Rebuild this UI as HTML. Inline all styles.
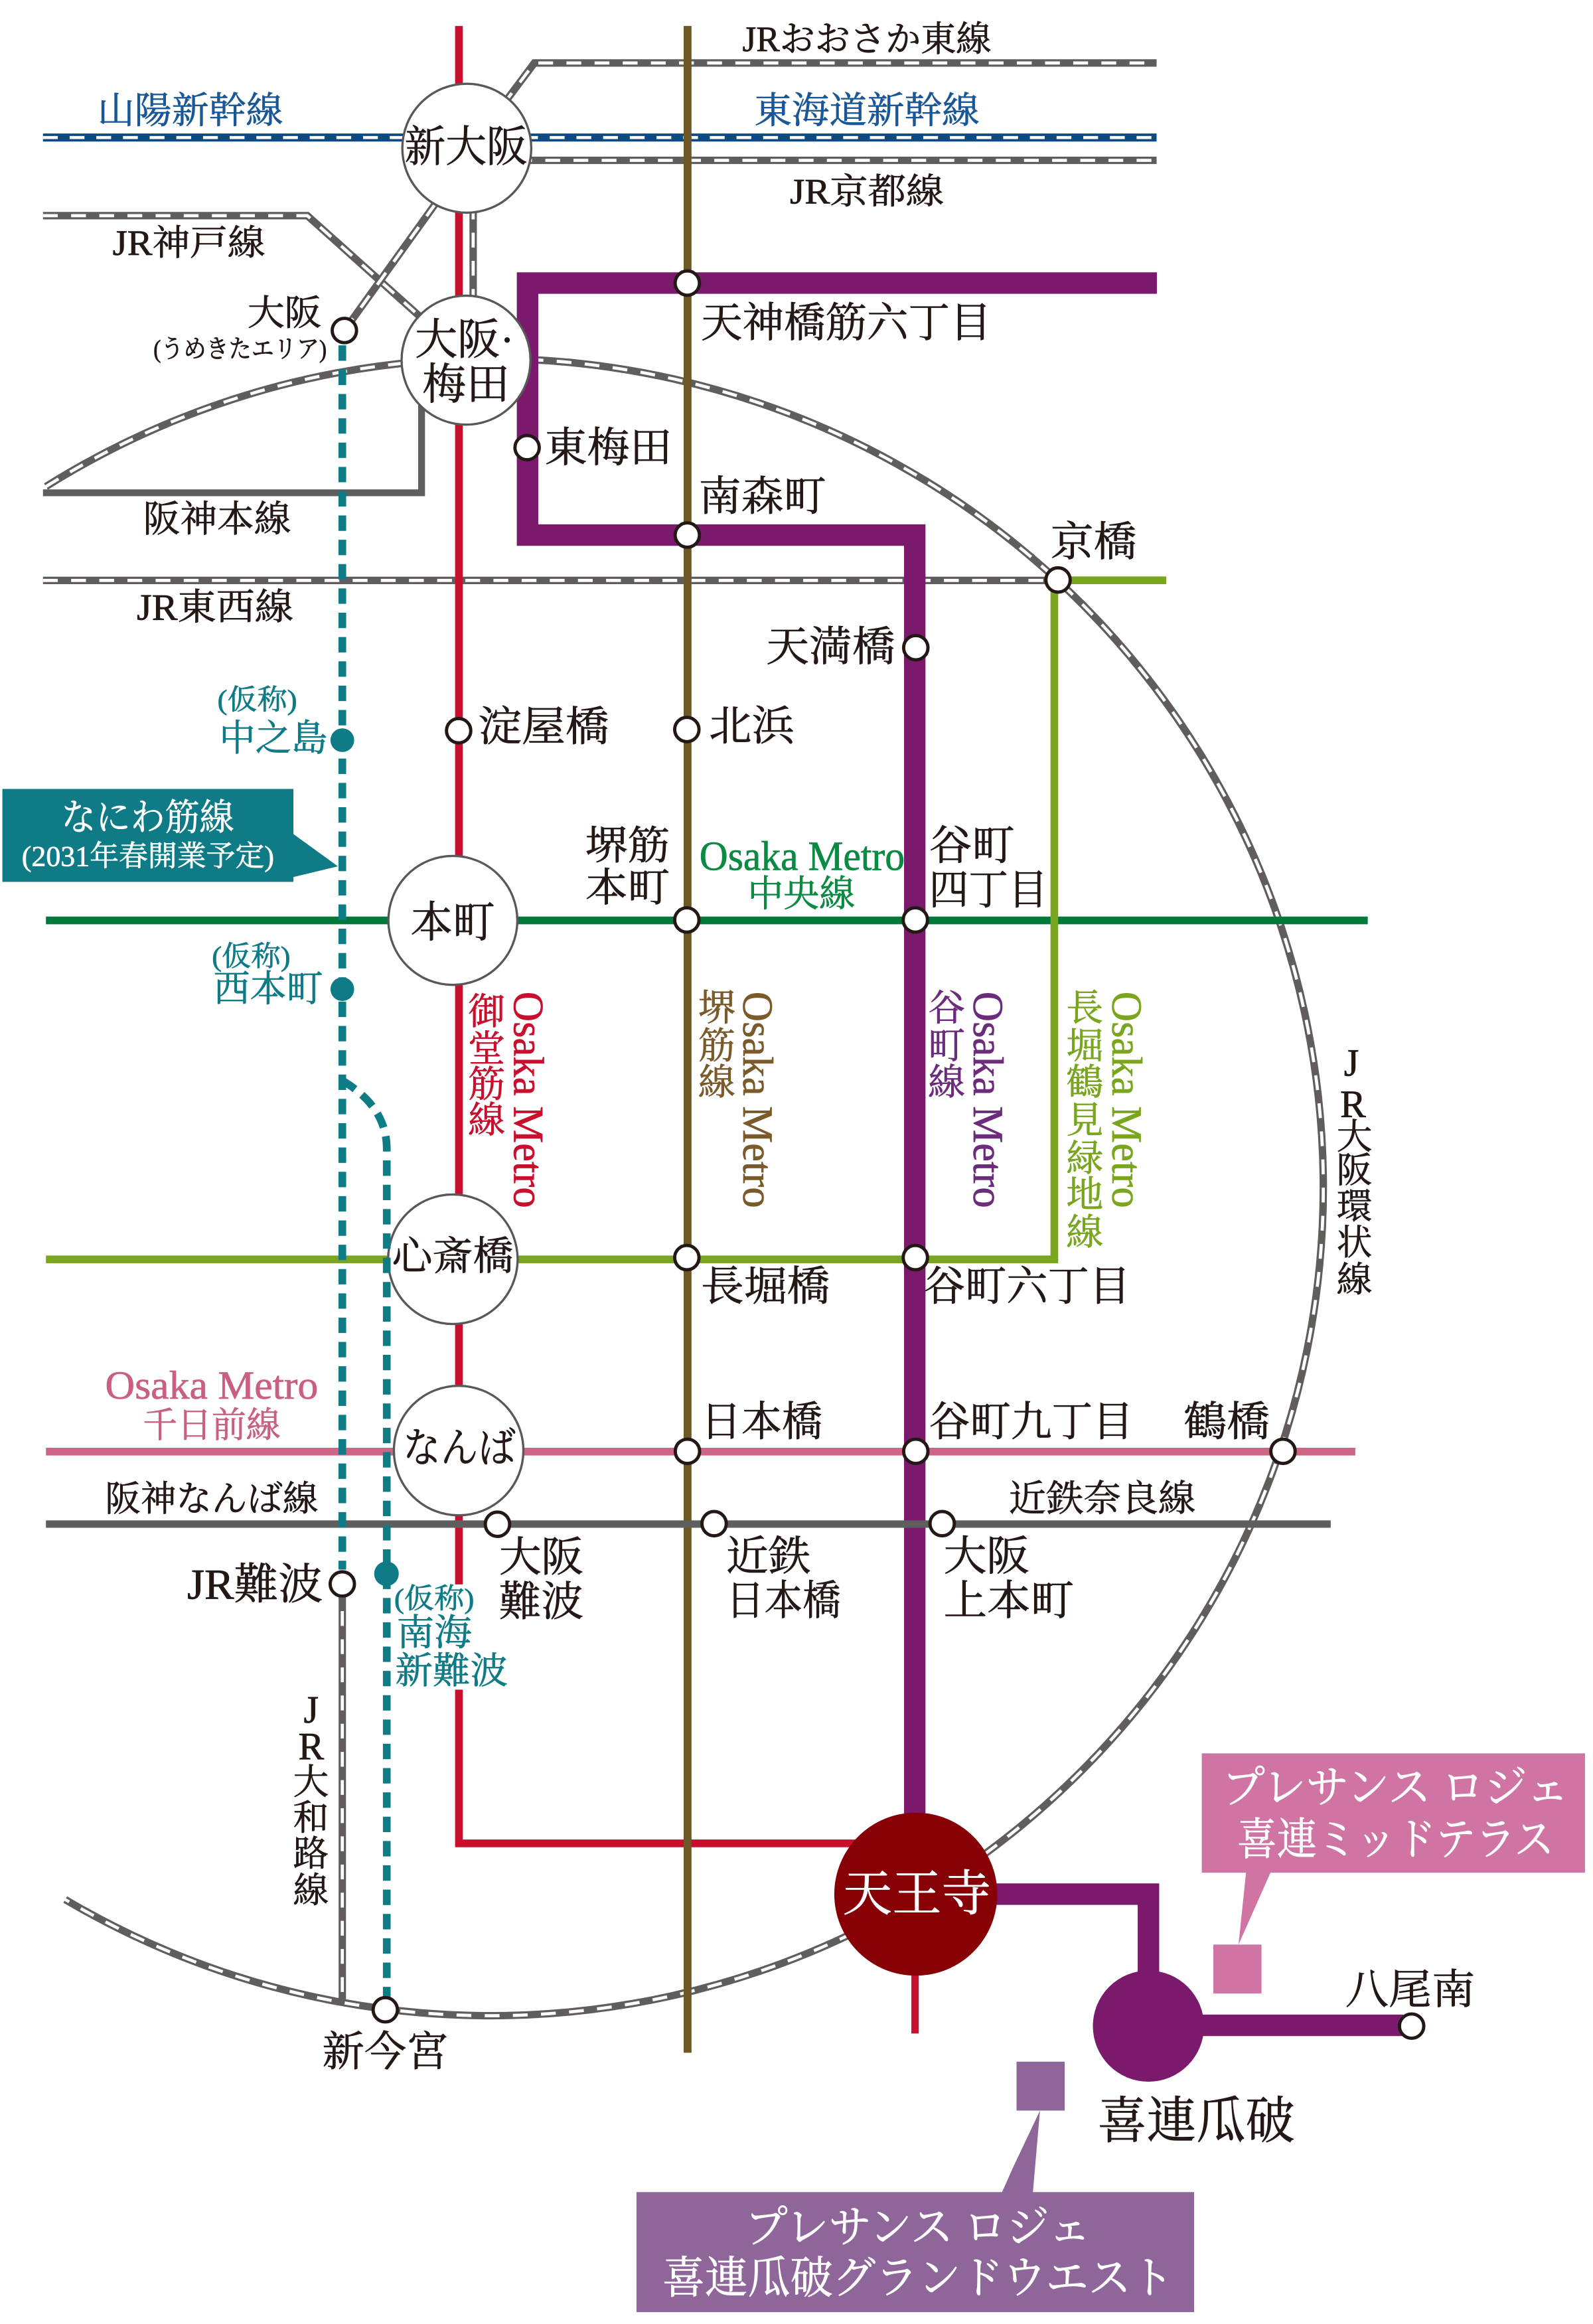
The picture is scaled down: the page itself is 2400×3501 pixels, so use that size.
<!DOCTYPE html>
<html><head><meta charset="utf-8">
<style>
html,body{margin:0;padding:0;background:#fff;}
svg{display:block;}
text{font-family:"Liberation Serif","Noto Serif CJK SC","Noto Serif CJK JP",serif;stroke-width:0.32px;paint-order:stroke;}
</style></head><body>
<svg width="2400" height="3501" viewBox="0 0 1075 1568" preserveAspectRatio="none" xmlns="http://www.w3.org/2000/svg">
<rect width="1075" height="1568" fill="#fff"/>

<g fill="none" stroke-linejoin="miter" stroke-linecap="butt">
  <!-- JR rails (gray) -->
  <g stroke="#615d5c" stroke-width="5">
    <path d="M328,86 L360.6,42.5 L780.5,42.5"/>
    <path d="M330,108.2 L780.5,108.2"/>
    <path d="M319.3,138 L319.3,205"/>
    <path d="M29,145.5 L207.4,145.5 L295,224"/>
    <path d="M232.4,223 L310,115"/>
    <path d="M29,391.6 L714,391.6"/>
    <path d="M31,328.3 A562,559 0 1,1 44,1281.6"/>
    <path d="M231,1068 L231,1352"/>
  </g>
  <g stroke="#fff" stroke-width="2.1" stroke-dasharray="10 9">
    <path d="M328,86 L360.6,42.5 L780.5,42.5"/>
    <path d="M330,108.2 L780.5,108.2"/>
    <path d="M319.3,138 L319.3,205"/>
    <path d="M29,145.5 L207.4,145.5 L295,224"/>
    <path d="M232.4,223 L310,115"/>
    <path d="M29,391.6 L714,391.6"/>
    <path d="M31,328.3 A562,559 0 1,1 44,1281.6"/>
    <path d="M231,1068 L231,1352"/>
  </g>
  <!-- Shinkansen -->
  <path d="M29,92.8 L780.5,92.8" stroke="#0d4a82" stroke-width="5.4"/>
  <path d="M29,92.8 L780.5,92.8" stroke="#fff" stroke-width="2.1" stroke-dasharray="10 8"/>

  <!-- Subway lines -->
  <path d="M309.7,17.5 L309.7,1243.7 L600,1243.7" stroke="#c8102e" stroke-width="5.2"/>
  <path d="M617.5,1290 L617.5,1372" stroke="#c8102e" stroke-width="5"/>
  <path d="M31,621 L923,621" stroke="#00793a" stroke-width="5.2"/>
  <path d="M31,849.7 L711.5,849.7 L711.5,391.5 L787,391.5" stroke="#7aa61f" stroke-width="5.2"/>
  <path d="M31,979.4 L914.6,979.4" stroke="#cd6584" stroke-width="5.2"/>
  <path d="M464,17.5 L464,1385" stroke="#6e5627" stroke-width="5.3"/>
  <path d="M780.7,191 L356,191 L356,361 L617.3,361 L617.3,1278" stroke="#7b1a6c" stroke-width="14.5"/>
  <path d="M618,1278 L775,1278 L775,1367" stroke="#7b1a6c" stroke-width="14.5"/>
  <path d="M775,1366.5 L947,1366.5" stroke="#7b1a6c" stroke-width="14.5"/>
  <path d="M284.5,270 L284.5,332.5 L29,332.5" stroke="#5e5e5e" stroke-width="4.6"/>
  <path d="M31,1028.3 L898,1028.3" stroke="#5e5e5e" stroke-width="5"/>
</g>

<!-- white halo behind Nankai label -->
<rect x="304" y="1069" width="12" height="71" fill="#fff"/>

<!-- Big stations -->
<g fill="#fff" stroke="#5a5758" stroke-width="1.5">
  <circle cx="315" cy="100" r="43.5"/>
  <circle cx="314.5" cy="243" r="43.5"/>
  <circle cx="305.6" cy="621" r="43.5"/>
  <circle cx="305.6" cy="849.6" r="43.7"/>
  <circle cx="309.5" cy="978.7" r="43.7"/>
</g>
<circle cx="618" cy="1278" r="55" fill="#860005"/>
<circle cx="775" cy="1367" r="37.5" fill="#7b1a6c"/>

<!-- Naniwasuji line (teal dashed) -->
<g fill="none" stroke="#0e7b86" stroke-width="5.2" stroke-dasharray="10.4 6">
  <path d="M231,233 L231,1059"/>
  <path d="M231,729 C246,738 261,752 261,775 L261,1350"/>
</g>

<!-- Small stations -->
<g fill="#fff" stroke="#231815" stroke-width="2.2">
  <circle cx="232.4" cy="223" r="8.2"/>
  <circle cx="463.8" cy="191" r="8.2"/>
  <circle cx="355.7" cy="302" r="8.2"/>
  <circle cx="463.8" cy="361" r="8.2"/>
  <circle cx="714" cy="391.3" r="8.2"/>
  <circle cx="618" cy="437" r="8.2"/>
  <circle cx="309.5" cy="493" r="8.2"/>
  <circle cx="463.5" cy="492.2" r="8.2"/>
  <circle cx="463.5" cy="620.7" r="8.2"/>
  <circle cx="617.7" cy="620.7" r="8.2"/>
  <circle cx="463.5" cy="848.5" r="8.2"/>
  <circle cx="617.7" cy="848.5" r="8.2"/>
  <circle cx="463.9" cy="979.2" r="8.2"/>
  <circle cx="618" cy="979.2" r="8.2"/>
  <circle cx="865.8" cy="979.2" r="8.2"/>
  <circle cx="335.7" cy="1028.4" r="8.2"/>
  <circle cx="481.9" cy="1028" r="8.2"/>
  <circle cx="635.8" cy="1028" r="8.2"/>
  <circle cx="231" cy="1068.7" r="8.2"/>
  <circle cx="260" cy="1356" r="8.2"/>
  <circle cx="952.6" cy="1367" r="8.2"/>
</g>
<g fill="#0e7b86">
  <circle cx="231" cy="499.4" r="8"/>
  <circle cx="231" cy="667.4" r="8"/>
  <circle cx="260.8" cy="1061.8" r="8.3"/>
</g>

<!-- Boxes -->
<rect x="1.6" y="532.3" width="196.4" height="62.7" fill="#0e7b86"/>
<polygon points="197,562 228,584.5 197,592" fill="#0e7b86"/>
<rect x="811" y="1183" width="258.6" height="80.5" fill="#cf74a3"/>
<polygon points="841,1262 858,1262 835.8,1312" fill="#cf74a3"/>
<rect x="818.8" y="1312" width="32.5" height="33" fill="#cf74a3"/>
<rect x="429.5" y="1479" width="376.3" height="81" fill="#8f6699"/>
<polygon points="701.8,1424 697,1479.5 676,1479.5 683.8,1462" fill="#8f6699"/>
<rect x="686" y="1391" width="32.5" height="33" fill="#8f6699"/>

<!-- Horizontal labels -->
<g dominant-baseline="central" fill="#231815" stroke="#231815">
  <text x="501" y="26.5" font-size="24" textLength="168" lengthAdjust="spacingAndGlyphs">JRおおさか東線</text>
  <text x="65.8" y="75" font-size="25" textLength="125.2" lengthAdjust="spacingAndGlyphs" fill="#1a5796" stroke="#1a5796">山陽新幹線</text>
  <text x="509" y="75" font-size="25" textLength="152" lengthAdjust="spacingAndGlyphs" fill="#1a5796" stroke="#1a5796">東海道新幹線</text>
  <text x="273" y="99.5" font-size="29" textLength="83" lengthAdjust="spacingAndGlyphs">新大阪</text>
  <text x="533" y="129.3" font-size="24" textLength="104" lengthAdjust="spacingAndGlyphs">JR京都線</text>
  <text x="76" y="164" font-size="24" textLength="103" lengthAdjust="spacingAndGlyphs">JR神戸線</text>
  <text x="167" y="211.2" font-size="24" textLength="50" lengthAdjust="spacingAndGlyphs">大阪</text>
  <text x="103.5" y="235.8" font-size="17" textLength="117" lengthAdjust="spacingAndGlyphs">(うめきたエリア)</text>
  <text x="280" y="229.5" font-size="29" textLength="67" lengthAdjust="spacingAndGlyphs">大阪·</text>
  <text x="285" y="259.7" font-size="29" textLength="59" lengthAdjust="spacingAndGlyphs">梅田</text>
  <text x="473" y="218" font-size="28" textLength="196" lengthAdjust="spacingAndGlyphs">天神橋筋六丁目</text>
  <text x="367.5" y="302" font-size="28" textLength="86" lengthAdjust="spacingAndGlyphs">東梅田</text>
  <text x="96.7" y="350.7" font-size="25" textLength="99.7" lengthAdjust="spacingAndGlyphs">阪神本線</text>
  <text x="471.5" y="335" font-size="28" textLength="86" lengthAdjust="spacingAndGlyphs">南森町</text>
  <text x="709" y="365.6" font-size="28" textLength="58" lengthAdjust="spacingAndGlyphs">京橋</text>
  <text x="92.3" y="410" font-size="25" textLength="105.7" lengthAdjust="spacingAndGlyphs">JR東西線</text>
  <text x="517" y="436.5" font-size="28" textLength="87" lengthAdjust="spacingAndGlyphs">天満橋</text>
  <text x="322.6" y="490.5" font-size="28" textLength="88.4" lengthAdjust="spacingAndGlyphs">淀屋橋</text>
  <text x="478.5" y="490" font-size="28" textLength="57.5" lengthAdjust="spacingAndGlyphs">北浜</text>
  <text x="146.7" y="472.5" font-size="19" textLength="53.8" lengthAdjust="spacingAndGlyphs" fill="#0e7b86" stroke="#0e7b86">(仮称)</text>
  <text x="148" y="498.4" font-size="25" textLength="73" lengthAdjust="spacingAndGlyphs" fill="#0e7b86" stroke="#0e7b86">中之島</text>
  <text x="41.4" y="552" font-size="25" textLength="116.6" lengthAdjust="spacingAndGlyphs" fill="#fff" stroke="#fff">なにわ筋線</text>
  <text x="14.7" y="578" font-size="19.5" textLength="170.3" lengthAdjust="spacingAndGlyphs" fill="#fff" stroke="#fff">(2031年春開業予定)</text>
  <text x="395" y="571" font-size="27" textLength="57" lengthAdjust="spacingAndGlyphs">堺筋</text>
  <text x="395" y="599.5" font-size="27" textLength="57" lengthAdjust="spacingAndGlyphs">本町</text>
  <text x="472" y="577.5" font-size="28" textLength="138.5" lengthAdjust="spacingAndGlyphs" fill="#0a8a43" stroke="#0a8a43">Osaka Metro</text>
  <text x="504.5" y="603.5" font-size="25" textLength="72.5" lengthAdjust="spacingAndGlyphs" fill="#0a8a43" stroke="#0a8a43">中央線</text>
  <text x="627" y="570.7" font-size="28" textLength="57.7" lengthAdjust="spacingAndGlyphs">谷町</text>
  <text x="627" y="600.5" font-size="28" textLength="80" lengthAdjust="spacingAndGlyphs">四丁目</text>
  <text x="277" y="622.7" font-size="29" textLength="57" lengthAdjust="spacingAndGlyphs">本町</text>
  <text x="143" y="645.5" font-size="19" textLength="53" lengthAdjust="spacingAndGlyphs" fill="#0e7b86" stroke="#0e7b86">(仮称)</text>
  <text x="144" y="667.5" font-size="25" textLength="74" lengthAdjust="spacingAndGlyphs" fill="#0e7b86" stroke="#0e7b86">西本町</text>
  <text x="264.5" y="848" font-size="27" textLength="82" lengthAdjust="spacingAndGlyphs">心斎橋</text>
  <text x="473" y="868" font-size="28" textLength="87" lengthAdjust="spacingAndGlyphs">長堀橋</text>
  <text x="623.4" y="868" font-size="28" textLength="139.4" lengthAdjust="spacingAndGlyphs">谷町六丁目</text>
  <text x="71" y="935" font-size="27" textLength="143.7" lengthAdjust="spacingAndGlyphs" fill="#c9607f" stroke="#c9607f">Osaka Metro</text>
  <text x="96.4" y="961.6" font-size="24" textLength="93" lengthAdjust="spacingAndGlyphs" fill="#c9607f" stroke="#c9607f">千日前線</text>
  <text x="272" y="977" font-size="28" textLength="76" lengthAdjust="spacingAndGlyphs">なんば</text>
  <text x="473" y="959.4" font-size="28" textLength="82" lengthAdjust="spacingAndGlyphs">日本橋</text>
  <text x="626.9" y="959.4" font-size="28" textLength="138" lengthAdjust="spacingAndGlyphs">谷町九丁目</text>
  <text x="798.8" y="959.4" font-size="28" textLength="58" lengthAdjust="spacingAndGlyphs">鶴橋</text>
  <text x="71" y="1011.2" font-size="24" textLength="143.7" lengthAdjust="spacingAndGlyphs">阪神なんば線</text>
  <text x="680.8" y="1011.5" font-size="25" textLength="126" lengthAdjust="spacingAndGlyphs">近鉄奈良線</text>
  <text x="336.8" y="1050.6" font-size="28" textLength="57" lengthAdjust="spacingAndGlyphs">大阪</text>
  <text x="336.8" y="1080.7" font-size="28" textLength="57" lengthAdjust="spacingAndGlyphs">難波</text>
  <text x="490" y="1050" font-size="28" textLength="57" lengthAdjust="spacingAndGlyphs">近鉄</text>
  <text x="490" y="1080" font-size="28" textLength="77.4" lengthAdjust="spacingAndGlyphs">日本橋</text>
  <text x="636.8" y="1050" font-size="28" textLength="58" lengthAdjust="spacingAndGlyphs">大阪</text>
  <text x="636.8" y="1080" font-size="28" textLength="88" lengthAdjust="spacingAndGlyphs">上本町</text>
  <text x="126.3" y="1069.4" font-size="29" textLength="91.5" lengthAdjust="spacingAndGlyphs">JR難波</text>
  <text x="266" y="1079" font-size="19" textLength="54" lengthAdjust="spacingAndGlyphs" fill="#0e7b86" stroke="#0e7b86">(仮称)</text>
  <text x="267.7" y="1102" font-size="25" textLength="50.7" lengthAdjust="spacingAndGlyphs" fill="#0e7b86" stroke="#0e7b86">南海</text>
  <text x="266.7" y="1127.8" font-size="25" textLength="76" lengthAdjust="spacingAndGlyphs" fill="#0e7b86" stroke="#0e7b86">新難波</text>
  <text x="824.8" y="1206.4" font-size="30" textLength="234" lengthAdjust="spacingAndGlyphs" fill="#fff" stroke="#fff">プレサンス ロジェ</text>
  <text x="834.8" y="1241.5" font-size="30" textLength="214" lengthAdjust="spacingAndGlyphs" fill="#fff" stroke="#fff">喜連ミッドテラス</text>
  <text x="568.7" y="1277.8" font-size="33" textLength="100" lengthAdjust="spacingAndGlyphs" fill="#fff" stroke="#fff">天王寺</text>
  <text x="907.8" y="1342.5" font-size="28" textLength="87.6" lengthAdjust="spacingAndGlyphs">八尾南</text>
  <text x="217.5" y="1384.3" font-size="28" textLength="85" lengthAdjust="spacingAndGlyphs">新今宮</text>
  <text x="740.7" y="1431.5" font-size="34" textLength="133" lengthAdjust="spacingAndGlyphs">喜連瓜破</text>
  <text x="502.8" y="1503" font-size="30" textLength="233.4" lengthAdjust="spacingAndGlyphs" fill="#fff" stroke="#fff">プレサンス ロジェ</text>
  <text x="447" y="1537.3" font-size="30" textLength="345" lengthAdjust="spacingAndGlyphs" fill="#fff" stroke="#fff">喜連瓜破グランドウエスト</text>
</g>

<!-- Rotated "Osaka Metro" labels -->
<g font-size="29">
  <text transform="translate(347,669) rotate(90)" x="0" y="0" textLength="146" lengthAdjust="spacingAndGlyphs" fill="#c8102e" stroke="#c8102e">Osaka Metro</text>
  <text transform="translate(501.7,669) rotate(90)" x="0" y="0" textLength="146" lengthAdjust="spacingAndGlyphs" fill="#7a5a2a" stroke="#7a5a2a">Osaka Metro</text>
  <text transform="translate(657,669) rotate(90)" x="0" y="0" textLength="146" lengthAdjust="spacingAndGlyphs" fill="#6c2c7c" stroke="#6c2c7c">Osaka Metro</text>
  <text transform="translate(750.7,669) rotate(90)" x="0" y="0" textLength="146" lengthAdjust="spacingAndGlyphs" fill="#7aa61f" stroke="#7aa61f">Osaka Metro</text>
</g>

<!-- Vertical kanji columns -->
<g text-anchor="middle" dominant-baseline="central" font-size="25">
  <g fill="#c8102e" stroke="#c8102e">
    <text x="328.4" y="683">御</text><text x="328.4" y="708">堂</text><text x="328.4" y="732">筋</text><text x="328.4" y="756.2">線</text>
  </g>
  <g fill="#7a5a2a" stroke="#7a5a2a">
    <text x="483.7" y="680.5">堺</text><text x="483.7" y="706">筋</text><text x="483.7" y="730.8">線</text>
  </g>
  <g fill="#6c2c7c" stroke="#6c2c7c">
    <text x="638.8" y="680.5">谷</text><text x="638.8" y="706">町</text><text x="638.8" y="730.8">線</text>
  </g>
  <g fill="#7aa61f" stroke="#7aa61f">
    <text x="732" y="680.5">長</text><text x="732" y="706">堀</text><text x="732" y="730.8">鶴</text><text x="732" y="756.3">見</text><text x="732" y="782">緑</text><text x="732" y="806.5">地</text><text x="732" y="832">線</text>
  </g>
  <g fill="#231815" stroke="#231815" font-size="24">
    <text x="912" y="717" font-size="26">J</text><text x="913" y="745" font-size="26">R</text>
    <text x="914" y="767">大</text><text x="914" y="789.5">阪</text><text x="914" y="814">環</text><text x="914" y="838.5">状</text><text x="914" y="863.5">線</text>
    <text x="210" y="1153.5" font-size="26">J</text><text x="210" y="1178.4" font-size="26">R</text>
    <text x="209.8" y="1202.3">大</text><text x="209.8" y="1226.6">和</text><text x="209.8" y="1250.8">路</text><text x="209.8" y="1275.6">線</text>
  </g>
</g>
</svg>
</body></html>
